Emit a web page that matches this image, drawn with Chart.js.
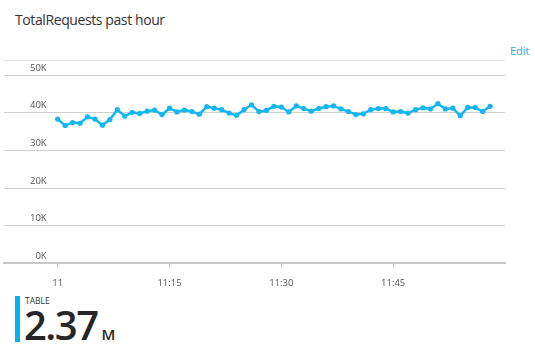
<!DOCTYPE html>
<html>
<head>
<meta charset="utf-8">
<script src="https://cdn.jsdelivr.net/npm/chart.js@4.4.0/dist/chart.umd.min.js"></script>
<style>
  body { margin: 0; width: 535px; height: 355px; background: #fff; position: relative; overflow: hidden;
         font-family: "Open Sans", "Noto Sans", sans-serif; }
  #title { position: absolute; left: 15px; top: 13px; font-size: 14px; line-height: 14px; color: #333; letter-spacing: -0.4px; }
  #edit { position: absolute; left: 510px; top: 45px; font-size: 11px; line-height: 11px; color: #2aa8e2; }
  #chartBox { position: absolute; left: 0; top: 0; width: 535px; height: 295px; }
  #bar { position: absolute; left: 15px; top: 296px; width: 5px; height: 46px; background: #00b4f0; }
  #kind { position: absolute; left: 25px; top: 297px; font-size: 8.5px; line-height: 8.5px; color: #333; }
  #total { position: absolute; left: 24px; top: 305px; font-size: 40px; line-height: 40px; color: #262626;
           font-weight: 600; letter-spacing: -1.5px; white-space: nowrap; }
  #total span { font-size: 15px; letter-spacing: 0; margin-left: 4px; }
</style>
</head>
<body>
<div id="title">TotalRequests past hour</div>
<div id="edit">Edit</div>
<div id="chartBox"><canvas id="myChart" width="535" height="295"></canvas></div>
<div id="bar"></div>
<div id="kind">TABLE</div>
<div id="total">2.37<span>M</span></div>
<script>
// minutes after 11:00
var minutes = [];
var requests = [
  38300, 36600, 37400, 37200, 38900, 38300, 36700, 38200, 40800, 39100,
  40100, 39800, 40400, 40700, 39500, 41200, 40200, 40700, 40300, 39600,
  41600, 41200, 40800, 39900, 39300, 40800, 42100, 40300, 40600, 41700,
  41500, 40200, 41800, 41100, 40400, 41100, 41600, 41800, 41000, 40300,
  39500, 39700, 40800, 41100, 41100, 40200, 40300, 39900, 40800, 41300,
  41000, 42400, 41000, 41200, 39200, 41400, 41400, 40300, 41700
];
for (var i = 0; i < requests.length; i++) minutes.push(i);

var xTickAt = [0, 15, 30, 45];
var xTickLabels = ['11', '11:15', '11:30', '11:45'];
var yTickValues = [0, 10000, 20000, 30000, 40000, 50000];
var yTop = 54000;

window.onload = () => {
  var ctx = document.getElementById('myChart').getContext('2d');
  var myChart = new Chart(ctx, {
    type: 'line',
    data: {
      datasets: [{
        label: 'TotalRequests',
        data: requests.map((v, i) => ({ x: minutes[i], y: v })),
        borderColor: '#14b6f0',
        backgroundColor: '#14b6f0',
        borderWidth: 2.5,
        pointRadius: 2.6,
        pointBorderWidth: 0,
        pointBackgroundColor: '#14b6f0',
        tension: 0
      }]
    },
    options: {
      responsive: false,
      animation: false,
      devicePixelRatio: 1,
      layout: { padding: { left: 0, right: 30, top: 60, bottom: 0 } },
      plugins: { legend: { display: false }, tooltip: { enabled: false } },
      scales: {
        x: {
          type: 'linear',
          min: -7.2,
          max: 60,
          afterBuildTicks: (scale) => { scale.ticks = xTickAt.map(v => ({ value: v })); },
          afterFit: (scale) => { scale.height = 30; },
          ticks: {
            autoSkip: false,
            maxRotation: 0,
            padding: 10,
            color: '#555',
            font: { family: 'Open Sans', size: 9.5 },
            callback: (v, i) => xTickLabels[i]
          },
          grid: { drawOnChartArea: false, drawTicks: true, tickLength: 4, color: '#bbb' },
          border: { display: true, color: '#c8c8c8', width: 2 }
        },
        y: {
          min: 0,
          max: yTop,
          afterBuildTicks: (scale) => {
            scale.ticks = yTickValues.concat([yTop]).map(v => ({ value: v }));
          },
          afterFit: (scale) => { scale.width = 0; },
          ticks: {
            mirror: true,
            crossAlign: 'far',
            padding: 26,
            labelOffset: -7,
            color: '#555',
            font: { family: 'Open Sans', size: 9.5 },
            callback: (v) => v === yTop ? '' : (v / 1000) + 'K'
          },
          grid: {
            drawTicks: false,
            color: (c) => c.tick.value === 0 ? 'rgba(0,0,0,0)' : (c.tick.value === yTop ? '#e4e4e4' : '#cfcfcf')
          },
          border: { display: false }
        }
      }
    }
  });
};
</script>
</body>
</html>
